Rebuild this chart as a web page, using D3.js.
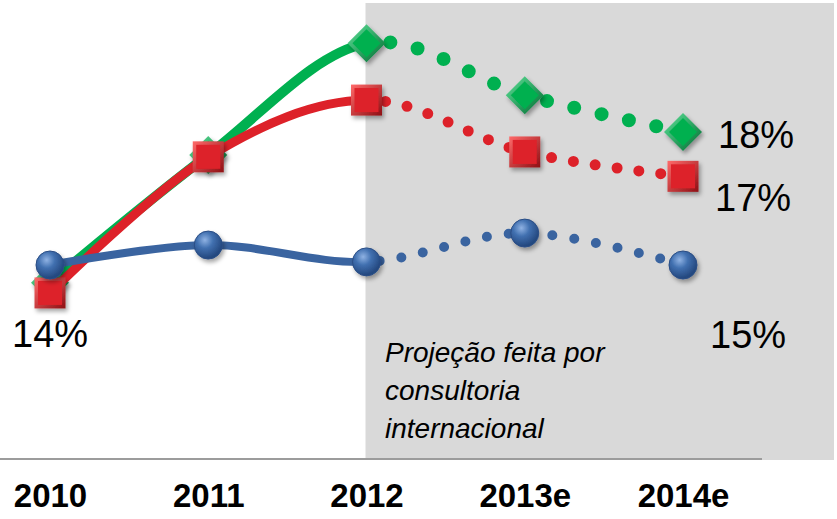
<!DOCTYPE html>
<html>
<head>
<meta charset="utf-8">
<script src="https://cdn.jsdelivr.net/npm/d3@7"></script>
<style>
  body { margin: 0; background: #fff; }
  svg { display: block; font-family: "Liberation Sans", Arial, sans-serif; }
</style>
</head>
<body>
<div id="chart"></div>
<script>
// chart data (values in %)
const years = ["2010", "2011", "2012", "2013e", "2014e"];
const blueValues = [15.0, 15.45, 15.07, 15.72, 15.0];
const redValues = [14.37, 17.44, 18.72, 17.55, 17.0];
const greenValues = [14.6, 17.48, 20.0, 18.83, 18.0];
const endLabels = ["18%", "17%", "15%"];
const startLabel = "14%";
const noteLines = ["Projeção feita por", "consultoria", "internacional"];

const width = 837, height = 519;
const splitIndex = 2; // projection starts after 2012

const svg = d3.select("#chart").append("svg")
    .attr("width", width)
    .attr("height", height);

const x = d3.scalePoint().domain(years).range([50, 683]);
const y = d3.scaleLinear().domain([15, 18]).range([265, 132]);

const defs = svg.append("defs");

// drop shadow for markers
const shadow = defs.append("filter").attr("id", "shadow")
    .attr("x", "-50%").attr("y", "-50%").attr("width", "200%").attr("height", "200%");
shadow.append("feDropShadow")
    .attr("dx", 2).attr("dy", 3).attr("stdDeviation", 2)
    .attr("flood-color", "#000").attr("flood-opacity", 0.35);

// clip: solid part / dotted part
const splitX = x(years[splitIndex]);
defs.append("clipPath").attr("id", "clipSolid")
    .append("rect").attr("x", 0).attr("y", 0).attr("width", splitX).attr("height", height);
defs.append("clipPath").attr("id", "clipDot")
    .append("rect").attr("x", splitX).attr("y", 0).attr("width", width - splitX).attr("height", height);

function bevelGradient(id, light, dark) {
    const g = defs.append("linearGradient").attr("id", id)
        .attr("x1", "0").attr("y1", "0").attr("x2", "1").attr("y2", "1");
    g.append("stop").attr("offset", "0%").attr("stop-color", light);
    g.append("stop").attr("offset", "100%").attr("stop-color", dark);
}
bevelGradient("gGreen", "#5fe39a", "#006b30");
bevelGradient("gRed", "#ff6a6a", "#8e0f14");

const blueGrad = defs.append("radialGradient").attr("id", "gBlue")
    .attr("cx", "38%").attr("cy", "32%").attr("r", "65%");
blueGrad.append("stop").attr("offset", "0%").attr("stop-color", "#8fb2e3");
blueGrad.append("stop").attr("offset", "45%").attr("stop-color", "#4170b0");
blueGrad.append("stop").attr("offset", "100%").attr("stop-color", "#24487f");

// projection shading
svg.append("rect")
    .attr("x", splitX - 1)
    .attr("y", 3)
    .attr("width", 834 - splitX + 1)
    .attr("height", 457)
    .attr("fill", "#d9d9d9");

// baseline
svg.append("line")
    .attr("x1", 0).attr("x2", 762)
    .attr("y1", 459).attr("y2", 459)
    .attr("stroke", "#9c9c9c")
    .attr("stroke-width", 2);

// x axis labels
const xAxis = svg.append("g")
    .attr("transform", "translate(0,484)")
    .call(d3.axisBottom(x).tickSize(0).tickPadding(0));
xAxis.select(".domain").remove();
xAxis.selectAll("text")
    .attr("dy", "0.71em")
    .attr("font-family", "Liberation Sans, Arial, sans-serif")
    .attr("font-size", 33)
    .attr("font-weight", "bold")
    .attr("fill", "#000");

const line = d3.line()
    .x((d, i) => x(years[i]))
    .y(d => y(d))
    .curve(d3.curveCardinal.tension(0));

const series = [
    { name: "green", values: greenValues, color: "#00b050", width: 10, dot: 14, gap: 28, shape: "diamond" },
    { name: "red", values: redValues, color: "#dd2129", width: 9, dot: 11, gap: 22, shape: "square" },
    { name: "blue", values: blueValues, color: "#3a64a0", width: 8, dot: 10, gap: 22, shape: "circle" }
];

series.forEach(s => {
    const g = svg.append("g").attr("class", "series " + s.name);

    g.append("path")
        .attr("d", line(s.values))
        .attr("fill", "none")
        .attr("stroke", s.color)
        .attr("stroke-width", s.width)
        .attr("clip-path", "url(#clipSolid)");

    g.append("path")
        .attr("d", line(s.values))
        .attr("fill", "none")
        .attr("stroke", s.color)
        .attr("stroke-width", s.dot)
        .attr("stroke-linecap", "round")
        .attr("stroke-dasharray", "0," + s.gap)
        .attr("stroke-dashoffset", -s.gap * 0.1)
        .attr("clip-path", "url(#clipDot)");

    const m = g.selectAll(".marker")
        .data(s.values)
        .enter().append("g")
        .attr("class", "marker")
        .attr("transform", (d, i) => `translate(${x(years[i])},${y(d)})`)
        .attr("filter", "url(#shadow)");

    if (s.shape === "diamond") {
        m.append("path").attr("d", "M0,-19L19,0L0,19L-19,0Z").attr("fill", "url(#gGreen)");
        m.append("path").attr("d", "M0,-14L14,0L0,14L-14,0Z").attr("fill", s.color);
    } else if (s.shape === "square") {
        m.append("rect").attr("x", -15.5).attr("y", -15.5).attr("width", 31).attr("height", 31).attr("fill", "url(#gRed)");
        m.append("rect").attr("x", -12).attr("y", -12).attr("width", 24).attr("height", 24).attr("fill", s.color);
    } else {
        m.append("circle").attr("r", 14).attr("fill", "url(#gBlue)")
            .attr("stroke", "#2a4d85").attr("stroke-width", 1);
    }
});

// value labels
const last = years.length - 1;
const labelFont = 38;
[
    { text: endLabels[0], v: greenValues[last], dx: 35, dy: 16 },
    { text: endLabels[1], v: redValues[last], dx: 32, dy: 35 },
    { text: endLabels[2], v: blueValues[last], dx: 27, dy: 83 }
].forEach(l => {
    svg.append("text")
        .attr("x", x(years[last]) + l.dx)
        .attr("y", y(l.v) + l.dy)
        .attr("font-size", labelFont)
        .attr("fill", "#000")
        .text(l.text);
});

svg.append("text")
    .attr("x", 12)
    .attr("y", 347)
    .attr("font-size", labelFont)
    .attr("fill", "#000")
    .text(startLabel);

// projection note
svg.append("text")
    .attr("x", 385)
    .attr("y", 362)
    .attr("font-size", 28)
    .attr("font-style", "italic")
    .attr("fill", "#000")
    .selectAll("tspan")
    .data(noteLines)
    .enter().append("tspan")
    .attr("x", 385)
    .attr("dy", (d, i) => i === 0 ? 0 : 38)
    .text(d => d);
</script>
</body>
</html>
